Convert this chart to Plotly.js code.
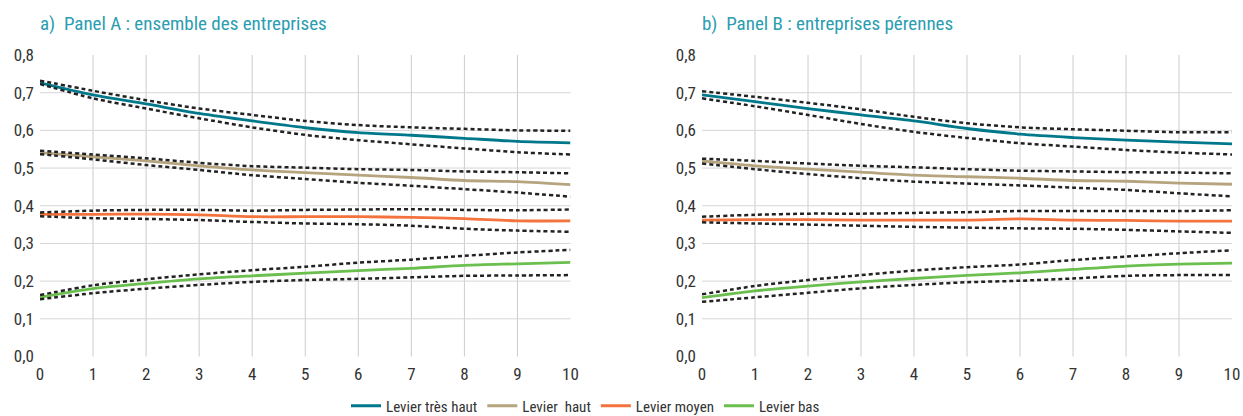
<!DOCTYPE html>
<html>
<head>
<meta charset="utf-8">
<script src="https://cdn.plot.ly/plotly-3.0.1.min.js"></script>
<style>html,body{margin:0;padding:0;background:#fff}#chart{width:1243px;height:416px}</style>
</head>
<body>
<div id="chart"></div>
<script>
// Horizon (years)
var years = [0,1,2,3,4,5,6,7,8,9,10];
var seriesNames = ["Levier très haut", "Levier  haut", "Levier moyen", "Levier bas"];
var panelTitles = ["a)  Panel A : ensemble des entreprises", "b)  Panel B : entreprises pérennes"];
var xGrid = [1,2,3,4,5,6,7,8,9];
var yGrid = [0.1,0.2,0.3,0.4,0.5,0.6,0.7];

// Panel A: estimates and confidence bounds
var A_tresHaut     = [0.726,0.694,0.670,0.645,0.625,0.607,0.594,0.587,0.579,0.571,0.567];
var A_tresHaut_up  = [0.732,0.705,0.680,0.658,0.641,0.625,0.614,0.608,0.604,0.600,0.599];
var A_tresHaut_lo  = [0.723,0.685,0.658,0.632,0.608,0.588,0.574,0.563,0.552,0.542,0.536];
var A_haut         = [0.541,0.530,0.519,0.506,0.495,0.488,0.481,0.475,0.467,0.464,0.456];
var A_haut_up      = [0.546,0.536,0.526,0.514,0.505,0.501,0.497,0.495,0.491,0.489,0.486];
var A_haut_lo      = [0.537,0.523,0.508,0.495,0.481,0.471,0.461,0.453,0.444,0.435,0.424];
var A_moyen        = [0.377,0.377,0.378,0.376,0.371,0.371,0.371,0.369,0.366,0.360,0.360];
var A_moyen_up     = [0.382,0.387,0.389,0.389,0.387,0.389,0.390,0.391,0.389,0.388,0.390];
var A_moyen_lo     = [0.372,0.367,0.365,0.362,0.357,0.353,0.351,0.347,0.339,0.334,0.331];
var A_bas          = [0.157,0.180,0.194,0.206,0.214,0.221,0.228,0.234,0.242,0.246,0.250];
var A_bas_up       = [0.163,0.189,0.205,0.218,0.229,0.238,0.249,0.257,0.267,0.276,0.283];
var A_bas_lo       = [0.152,0.168,0.180,0.190,0.198,0.203,0.206,0.210,0.214,0.215,0.216];

// Panel B: estimates and confidence bounds
var B_tresHaut     = [0.694,0.676,0.658,0.641,0.625,0.605,0.590,0.581,0.574,0.569,0.564];
var B_tresHaut_up  = [0.704,0.689,0.673,0.656,0.636,0.619,0.608,0.603,0.599,0.595,0.595];
var B_tresHaut_lo  = [0.685,0.664,0.641,0.617,0.596,0.580,0.566,0.557,0.548,0.541,0.536];
var B_haut         = [0.519,0.506,0.497,0.489,0.481,0.477,0.473,0.467,0.465,0.460,0.457];
var B_haut_up      = [0.525,0.519,0.512,0.506,0.502,0.497,0.493,0.491,0.489,0.488,0.486];
var B_haut_lo      = [0.512,0.497,0.484,0.473,0.464,0.459,0.454,0.448,0.442,0.433,0.425];
var B_moyen        = [0.362,0.363,0.363,0.362,0.362,0.362,0.365,0.362,0.361,0.359,0.359];
var B_moyen_up     = [0.371,0.376,0.379,0.379,0.381,0.383,0.386,0.386,0.386,0.386,0.388];
var B_moyen_lo     = [0.356,0.353,0.350,0.347,0.344,0.342,0.340,0.339,0.336,0.332,0.328];
var B_bas          = [0.156,0.174,0.187,0.198,0.207,0.215,0.222,0.231,0.240,0.245,0.248];
var B_bas_up       = [0.165,0.187,0.203,0.216,0.228,0.237,0.244,0.256,0.265,0.274,0.282];
var B_bas_lo       = [0.145,0.157,0.169,0.181,0.190,0.197,0.201,0.207,0.214,0.216,0.216];

var colors = ["#00788c", "#b5a47e", "#f4733d", "#6bbf4e"];
var FONT = "'Roboto Condensed', 'DejaVu Sans Condensed', 'Liberation Sans Narrow', 'Arial Narrow', Roboto, sans-serif";

var panels = [
  {xa:"x", ya:"y", est:[A_tresHaut,A_haut,A_moyen,A_bas], up:[A_tresHaut_up,A_haut_up,A_moyen_up,A_bas_up], lo:[A_tresHaut_lo,A_haut_lo,A_moyen_lo,A_bas_lo]},
  {xa:"x2", ya:"y2", est:[B_tresHaut,B_haut,B_moyen,B_bas], up:[B_tresHaut_up,B_haut_up,B_moyen_up,B_bas_up], lo:[B_tresHaut_lo,B_haut_lo,B_moyen_lo,B_bas_lo]}
];

var traces = [];
panels.forEach(function(p, pi){
  for (var i = 0; i < 4; i++) {
    traces.push({
      x: years, y: p.est[i], xaxis: p.xa, yaxis: p.ya, type: "scatter", mode: "lines",
      name: seriesNames[i], legendgroup: "g"+i, showlegend: pi === 0,
      line: {color: colors[i], width: 2.8, shape: "spline", smoothing: 0.8},
      hoverinfo: "x+y"
    });
  }
  for (var j = 0; j < 4; j++) {
    [p.up[j], p.lo[j]].forEach(function(b){
      traces.push({
        x: years, y: b, xaxis: p.xa, yaxis: p.ya, type: "scatter", mode: "lines",
        showlegend: false, legendgroup: "g"+j,
        line: {color: "#222222", width: 2.5, dash: "4px,3px", shape: "spline", smoothing: 0.8},
        hoverinfo: "skip"
      });
    });
  }
});

// Interior grid lines (no grid at the plot edges, as in the reference)
var shapes = [];
[["x","y"],["x2","y2"]].forEach(function(ax){
  xGrid.forEach(function(v){
    shapes.push({type:"line", layer:"below", xref: ax[0], yref: ax[1]+" domain", x0: v, x1: v, y0: 0, y1: 1,
      line:{color:"#cccccc", width:1}});
  });
  yGrid.forEach(function(v){
    shapes.push({type:"line", layer:"below", xref: ax[0]+" domain", yref: ax[1], x0: 0, x1: 1, y0: v, y1: v,
      line:{color:"#d6d6d6", width:1}});
  });
});

var W = 1243, H = 416;
function xd(a,b){ return [a/W, b/W]; }
var ydom = [1 - 356.5/H, 1 - 55/H];

function xax(dom){
  return {domain: dom, range: [0,10], tickmode: "linear", tick0: 0, dtick: 1,
    showgrid: false, zeroline: false, showline: false, ticklabelstandoff: 5,
    ticks: "", tickfont: {family: FONT, size: 17, color: "#333333"}, fixedrange: true, automargin: false};
}
function yax(anchor){
  return {domain: ydom, range: [0,0.8], tickmode: "linear", tick0: 0, dtick: 0.1, tickformat: ".1f",
    showgrid: false, zeroline: false, showline: false, ticklabelstandoff: 5,
    ticks: "", anchor: anchor, tickfont: {family: FONT, size: 17, color: "#333333"}, fixedrange: true, automargin: false};
}

var layout = {
  width: W, height: H,
  margin: {l:0, r:0, t:0, b:0, autoexpand: false},
  paper_bgcolor: "#ffffff", plot_bgcolor: "#ffffff",
  separators: ", ",
  font: {family: FONT, color: "#333333"},
  xaxis: xax(xd(40, 570.5)),
  yaxis: yax("x"),
  xaxis2: Object.assign(xax(xd(702, 1232)), {anchor: "y2"}),
  yaxis2: yax("x2"),
  shapes: shapes,
  showlegend: true,
  legend: {orientation: "h", x: 346/W, xanchor: "left", y: 1 - 406/H, yanchor: "middle",
    font: {family: FONT, size: 15, color: "#333333"}, bgcolor: "rgba(0,0,0,0)", traceorder: "normal"},
  annotations: [
    {text: panelTitles[0], xref: "paper", yref: "paper", x: 38/W, y: 1 - 23/H, xanchor: "left", yanchor: "middle",
     showarrow: false, font: {family: FONT, size: 19, color: "#2a9db0"}},
    {text: panelTitles[1], xref: "paper", yref: "paper", x: 700/W, y: 1 - 23/H, xanchor: "left", yanchor: "middle",
     showarrow: false, font: {family: FONT, size: 19, color: "#2a9db0"}}
  ]
};

Plotly.newPlot("chart", traces, layout, {displayModeBar: false, staticPlot: true});
</script>
</body>
</html>
